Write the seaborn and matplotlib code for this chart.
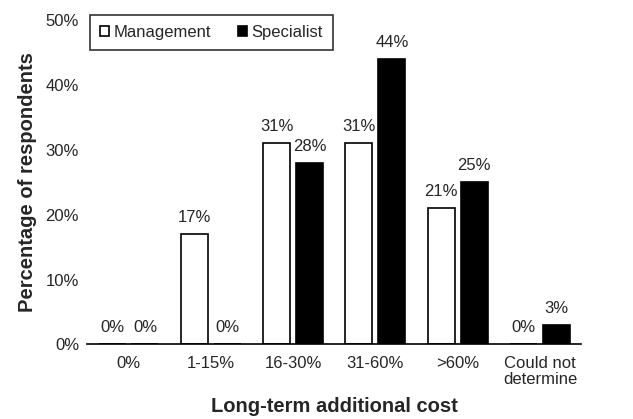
import matplotlib
matplotlib.use("Agg")
import matplotlib.pyplot as plt
import pandas as pd
import seaborn as sns

# Data
categories = ["0%", "1-15%", "16-30%", "31-60%", ">60%", "Could not\ndetermine"]
management = [0, 17, 31, 31, 21, 0]
specialist = [0, 0, 28, 44, 25, 3]
groups = ["Management", "Specialist"]

df = pd.DataFrame({
    "cost": categories * 2,
    "group": [groups[0]] * len(categories) + [groups[1]] * len(categories),
    "pct": management + specialist,
})

sns.set_style("white")
plt.rcParams["font.family"] = ["Liberation Sans", "DejaVu Sans"]

fig = plt.figure(figsize=(6.33, 4.19), dpi=100)
ax = fig.add_axes([0.138, 0.178, 0.78, 0.774])

sns.barplot(data=df, x="cost", y="pct", hue="group", order=categories,
            hue_order=groups, palette=["white", "black"], width=0.8,
            gap=0.18, edgecolor="black", linewidth=1.2, ax=ax, legend=True)

for container in ax.containers:
    ax.bar_label(container, labels=[f"{v:.0f}%" for v in container.datavalues],
                 padding=6.5, fontsize=12)

ax.set_ylim(0, 50)
ax.set_yticks(range(0, 51, 10))
ax.set_yticklabels([f"{t}%" for t in range(0, 51, 10)], fontsize=12)
ax.tick_params(axis="x", labelsize=12, length=0, pad=8)
ax.tick_params(axis="y", length=0, pad=6)
ax.set_xlim(-0.5, len(categories) - 0.5)
for lbl in ax.get_xticklabels():
    lbl.set_linespacing(1.15)

for s in ["top", "right", "left"]:
    ax.spines[s].set_visible(False)
ax.spines["bottom"].set_linewidth(1.2)
ax.spines["bottom"].set_color("black")

ax.set_xlabel("Long-term additional cost", fontsize=14.5, fontweight="bold", labelpad=7)
ax.set_ylabel("Percentage of respondents", fontsize=14.5, fontweight="bold", labelpad=6)

leg = ax.legend(loc="upper left", bbox_to_anchor=(0.006, 1.015), borderaxespad=0,
                ncol=2, fontsize=12, frameon=True, fancybox=False,
                edgecolor="black", handlelength=0.55, handleheight=0.55,
                handletextpad=0.25, columnspacing=1.6, borderpad=0.6)
leg.get_frame().set_linewidth(1.2)

fig.savefig("out.png", dpi=100)
